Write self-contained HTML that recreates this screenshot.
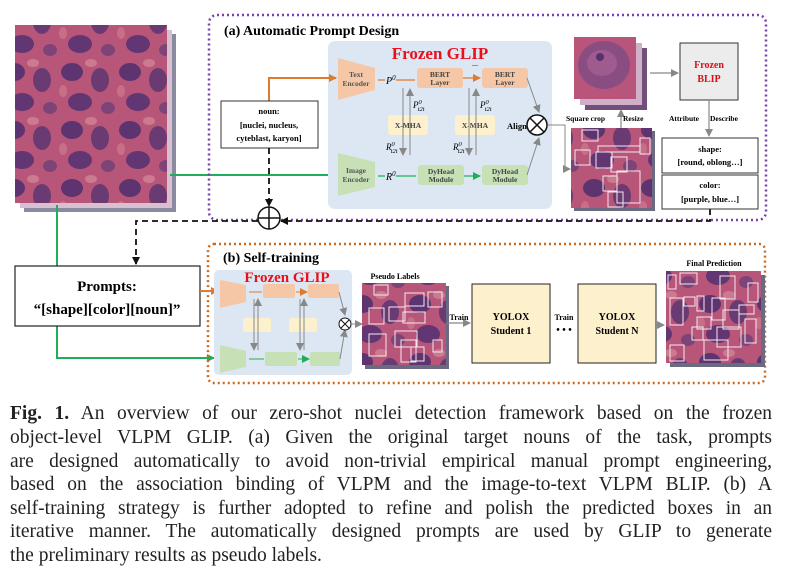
<!DOCTYPE html>
<html><head><meta charset="utf-8"><style>
body{margin:0;background:#fff;width:790px;height:573px;overflow:hidden;position:relative;font-family:"Liberation Serif",serif}
svg{position:absolute;left:0;top:0}
.cap{position:absolute;left:10px;width:762px;font-size:19.5px;line-height:23.7px;text-align:justify;text-align-last:justify;white-space:nowrap;color:#222}
.cap.last{text-align-last:left}
</style></head><body>
<svg width="790" height="395" viewBox="0 0 790 395" font-family="Liberation Serif, serif">
<defs>
<pattern id="tis" width="58" height="58" patternUnits="userSpaceOnUse">
<rect width="58" height="58" fill="#b8567a"/>
<ellipse cx="14" cy="14" rx="11" ry="9" fill="#5e3470"/>
<ellipse cx="42" cy="22" rx="9" ry="12" fill="#6a3a72"/>
<ellipse cx="22" cy="44" rx="12" ry="9" fill="#623672"/>
<ellipse cx="50" cy="50" rx="7" ry="6" fill="#7e4478"/>
<ellipse cx="33" cy="5" rx="6" ry="4" fill="#cc7a90"/>
<ellipse cx="5" cy="33" rx="4" ry="6" fill="#c86f88"/>
</pattern>
<pattern id="big" x="574" y="37" width="62" height="62" patternUnits="userSpaceOnUse">
<rect width="62" height="62" fill="#b9557a"/>
<ellipse cx="30" cy="28" rx="26" ry="24" fill="#8a4d82"/>
<ellipse cx="28" cy="26" rx="15" ry="13" fill="#9e5c8e"/>
<circle cx="26" cy="20" r="4" fill="#5a3070"/>
</pattern>
<marker id="ao" markerWidth="8" markerHeight="8" refX="7" refY="4" orient="auto" markerUnits="userSpaceOnUse"><path d="M0,0 L8,4 L0,8z" fill="#e07a2c"/></marker>
<marker id="ag" markerWidth="8" markerHeight="8" refX="7" refY="4" orient="auto" markerUnits="userSpaceOnUse"><path d="M0,0 L8,4 L0,8z" fill="#1fae5a"/></marker>
<marker id="ay" markerWidth="8" markerHeight="8" refX="7" refY="4" orient="auto" markerUnits="userSpaceOnUse"><path d="M0,0 L8,4 L0,8z" fill="#888"/></marker>
<marker id="ak" markerWidth="8" markerHeight="8" refX="7" refY="4" orient="auto" markerUnits="userSpaceOnUse"><path d="M0,0 L8,4 L0,8z" fill="#111"/></marker>
</defs>

<rect x="24" y="34" width="152" height="178" fill="#8a8aa0"/>
<rect x="20" y="30" width="152" height="178" fill="#d8c0d0"/>
<rect x="15" y="25" width="152" height="178" fill="url(#tis)"/>

<path d="M170,175 H336" stroke="#1fae5a" stroke-width="2" fill="none" marker-end="url(#ag)"/>
<path d="M57,205 V358 H214" stroke="#1fae5a" stroke-width="2" fill="none" marker-end="url(#ag)"/>

<rect x="209" y="15" width="557" height="205" rx="8" fill="none" stroke="#7a3fb0" stroke-width="2.5" stroke-dasharray="2,3"/>
<text x="224" y="35" font-size="14" font-weight="bold">(a) Automatic Prompt Design</text>
<rect x="328" y="41" width="224" height="168" rx="7" fill="#dde7f3"/>
<text x="440" y="59" font-size="17" font-weight="bold" fill="#e8101a" text-anchor="middle">Frozen GLIP</text>
<path d="M338,58 L375,68 L375,90 L338,100z" fill="#f5c7a6"/>
<text x="356" y="77" font-size="7.5" font-weight="bold" fill="#555" text-anchor="middle">Text</text>
<text x="356" y="86" font-size="7.5" font-weight="bold" fill="#555" text-anchor="middle">Encoder</text>
<path d="M338,153 L375,162 L375,187 L338,196z" fill="#c7e0b5"/>
<text x="356" y="173" font-size="7.5" font-weight="bold" fill="#555" text-anchor="middle">Image</text>
<text x="356" y="182" font-size="7.5" font-weight="bold" fill="#555" text-anchor="middle">Encoder</text>
<text x="386" y="84" font-size="10" font-style="italic">P<tspan font-size="7" dy="-4">0</tspan></text>
<text x="386" y="180" font-size="10" font-style="italic">R<tspan font-size="7" dy="-4">0</tspan></text>
<path d="M378,80 H385 M396,80 H415 M463,78 H480" stroke="#e07a2c" stroke-width="1.2" marker-end="url(#ao)"/>
<path d="M378,176 H385 M396,176 H416 M463,176 H480" stroke="#1fae5a" stroke-width="1.2" marker-end="url(#ag)"/>
<rect x="417" y="68" width="46" height="20" rx="3" fill="#f5c7a6"/>
<rect x="482" y="68" width="46" height="20" rx="3" fill="#f5c7a6"/>
<text x="440" y="77" font-size="7.5" font-weight="bold" fill="#444" text-anchor="middle">BERT</text>
<text x="440" y="85" font-size="7.5" font-weight="bold" fill="#444" text-anchor="middle">Layer</text>
<text x="505" y="77" font-size="7.5" font-weight="bold" fill="#444" text-anchor="middle">BERT</text>
<text x="505" y="85" font-size="7.5" font-weight="bold" fill="#444" text-anchor="middle">Layer</text>
<text x="475" y="66" font-size="8" text-anchor="middle">...</text>
<rect x="388" y="115" width="40" height="20" rx="3" fill="#fdf0cc"/>
<rect x="455" y="115" width="40" height="20" rx="3" fill="#fdf0cc"/>
<text x="408" y="128" font-size="7.5" font-weight="bold" fill="#444" text-anchor="middle">X-MHA</text>
<text x="475" y="128" font-size="7.5" font-weight="bold" fill="#444" text-anchor="middle">X-MHA</text>
<rect x="418" y="165" width="46" height="20" rx="3" fill="#c7e0b5"/>
<rect x="482" y="165" width="46" height="20" rx="3" fill="#c7e0b5"/>
<text x="441" y="174" font-size="7.5" font-weight="bold" fill="#444" text-anchor="middle">DyHead</text>
<text x="441" y="182" font-size="7.5" font-weight="bold" fill="#444" text-anchor="middle">Module</text>
<text x="505" y="174" font-size="7.5" font-weight="bold" fill="#444" text-anchor="middle">DyHead</text>
<text x="505" y="182" font-size="7.5" font-weight="bold" fill="#444" text-anchor="middle">Module</text>
<g stroke="#888" stroke-width="1" fill="none">
<path d="M410,155 V89" marker-end="url(#ay)"/><path d="M403,88 V155" marker-end="url(#ay)"/>
<path d="M476,155 V89" marker-end="url(#ay)"/><path d="M469,88 V155" marker-end="url(#ay)"/>
<path d="M527,78 L539,112" marker-end="url(#ay)"/><path d="M527,175 L539,138" marker-end="url(#ay)"/>
<path d="M548,125 H565 V169 H570" marker-end="url(#ay)"/>
</g>
<text x="413" y="108" font-size="9" font-style="italic">P<tspan font-size="6.5" dy="-4">0</tspan><tspan font-size="6.5" dy="7" dx="-4">t2t</tspan></text>
<text x="480" y="108" font-size="9" font-style="italic">P<tspan font-size="6.5" dy="-4">0</tspan><tspan font-size="6.5" dy="7" dx="-4">t2t</tspan></text>
<text x="386" y="150" font-size="9" font-style="italic">R<tspan font-size="6.5" dy="-4">0</tspan><tspan font-size="6.5" dy="7" dx="-4">t2t</tspan></text>
<text x="453" y="150" font-size="9" font-style="italic">R<tspan font-size="6.5" dy="-4">0</tspan><tspan font-size="6.5" dy="7" dx="-4">t2t</tspan></text>
<text x="507" y="129" font-size="8.5" font-weight="bold">Align</text>
<circle cx="537" cy="125" r="10" fill="#fff" stroke="#111" stroke-width="1.5"/>
<path d="M530,118 L544,132 M544,118 L530,132" stroke="#111" stroke-width="1.5"/>

<path d="M269,101 V78 H336" stroke="#e07a2c" stroke-width="2" fill="none" marker-end="url(#ao)"/>
<rect x="221" y="101" width="97" height="47" fill="#fff" stroke="#333"/>
<text x="269" y="114" font-size="8.5" font-weight="bold" text-anchor="middle">noun:</text>
<text x="269" y="128" font-size="8.5" font-weight="bold" text-anchor="middle">[nuclei, nucleus,</text>
<text x="269" y="141" font-size="8.5" font-weight="bold" text-anchor="middle">cyteblast, karyon]</text>

<g stroke="#111" stroke-width="1.8" fill="none" stroke-dasharray="6,4">
<path d="M269,148 V206" marker-end="url(#ak)"/>
<path d="M710,209 V221 H281" marker-end="url(#ak)"/>
<path d="M258,221 H136 V264" marker-end="url(#ak)"/>
</g>
<circle cx="269" cy="218" r="11" fill="#fff" stroke="#111" stroke-width="1.5"/>
<path d="M258,218 H280 M269,207 V229" stroke="#111" stroke-width="1.5"/>

<rect x="585" y="48" width="62" height="62" fill="#70507a"/>
<rect x="580" y="43" width="62" height="62" fill="#d0b0c8"/>
<rect x="574" y="37" width="62" height="62" fill="url(#big)"/>
<path d="M650,73 H678" stroke="#888" stroke-width="1.2" marker-end="url(#ay)"/>
<path d="M621,128 V110" stroke="#888" stroke-width="1.2" marker-end="url(#ay)"/>
<rect x="680" y="43" width="58" height="57" fill="#ececec" stroke="#333"/>
<text x="709" y="68" font-size="10" font-weight="bold" fill="#d8101a" text-anchor="middle">Frozen</text>
<text x="709" y="82" font-size="10" font-weight="bold" fill="#d8101a" text-anchor="middle">BLIP</text>
<path d="M709,100 V136" stroke="#888" stroke-width="1.2" marker-end="url(#ay)"/>
<text x="566" y="121" font-size="7.5" font-weight="bold">Square crop</text>
<text x="623" y="121" font-size="7.5" font-weight="bold">Resize</text>
<text x="669" y="121" font-size="7.5" font-weight="bold">Attribute</text>
<text x="710" y="121" font-size="7.5" font-weight="bold">Describe</text>
<rect x="574" y="131" width="81" height="80" fill="#6a6a80"/>
<rect x="571" y="128" width="81" height="80" fill="url(#tis)"/>
<g fill="none" stroke="#f4e8f0" stroke-width="1">
<rect x="582" y="130" width="16" height="11"/><rect x="575" y="150" width="15" height="15"/><rect x="596" y="152" width="16" height="16"/><rect x="611" y="157" width="16" height="15"/><rect x="640" y="138" width="10" height="16"/><rect x="617" y="171" width="23" height="32"/><rect x="603" y="176" width="14" height="15"/><rect x="608" y="192" width="15" height="15"/><rect x="598" y="146" width="42" height="6"/>
</g>
<rect x="662" y="138" width="96" height="35" fill="#fff" stroke="#333"/>
<rect x="662" y="175" width="96" height="34" fill="#fff" stroke="#333"/>
<text x="710" y="152" font-size="8.5" font-weight="bold" text-anchor="middle">shape:</text>
<text x="710" y="165" font-size="8.5" font-weight="bold" text-anchor="middle">[round, oblong…]</text>
<text x="710" y="188" font-size="8.5" font-weight="bold" text-anchor="middle">color:</text>
<text x="710" y="202" font-size="8.5" font-weight="bold" text-anchor="middle">[purple, blue…]</text>

<rect x="208" y="244" width="557" height="139" rx="6" fill="none" stroke="#c96a20" stroke-width="2.5" stroke-dasharray="2,3"/>
<text x="223" y="262" font-size="14" font-weight="bold">(b) Self-training</text>
<rect x="15" y="266" width="185" height="60" fill="#fff" stroke="#222" stroke-width="1.2"/>
<text x="107" y="291" font-size="15" font-weight="bold" text-anchor="middle">Prompts:</text>
<text x="107" y="314" font-size="15" font-weight="bold" text-anchor="middle">“[shape][color][noun]”</text>
<path d="M200,291 H218" stroke="#e07a2c" stroke-width="2" marker-end="url(#ao)"/>
<rect x="214" y="270" width="138" height="105" rx="5" fill="#dde7f3"/>
<text x="287" y="282" font-size="15" font-weight="bold" fill="#e8101a" text-anchor="middle">Frozen GLIP</text>
<path d="M220,280 L246,285 L246,302 L220,308z" fill="#f5c7a6"/>
<path d="M220,345 L246,351 L246,367 L220,373z" fill="#c7e0b5"/>
<rect x="263" y="284" width="32" height="14" rx="2" fill="#f5c7a6"/>
<rect x="308" y="284" width="31" height="14" rx="2" fill="#f5c7a6"/>
<rect x="243" y="318" width="28" height="14" rx="2" fill="#fdf0cc"/>
<rect x="289" y="318" width="28" height="14" rx="2" fill="#fdf0cc"/>
<rect x="265" y="352" width="32" height="14" rx="2" fill="#c7e0b5"/>
<rect x="310" y="352" width="30" height="14" rx="2" fill="#c7e0b5"/>
<g stroke-width="1">
<path d="M249,292 H262 M296,292 H307" stroke="#e07a2c" marker-end="url(#ao)"/>
<path d="M249,359 H264 M298,359 H309" stroke="#1fae5a" marker-end="url(#ag)"/>
<g stroke="#888" fill="none"><path d="M258,350 V299" marker-end="url(#ay)"/><path d="M254,299 V350" marker-end="url(#ay)"/><path d="M304,350 V299" marker-end="url(#ay)"/><path d="M300,299 V350" marker-end="url(#ay)"/><path d="M339,292 L345,315" marker-end="url(#ay)"/><path d="M340,359 L345,330" marker-end="url(#ay)"/><path d="M352,324 H362" marker-end="url(#ay)"/></g>
</g>
<circle cx="345" cy="324" r="6" fill="#fff" stroke="#111"/>
<path d="M341,320 L349,328 M349,320 L341,328" stroke="#111"/>
<text x="395" y="279" font-size="8" font-weight="bold" text-anchor="middle">Pseudo Labels</text>
<rect x="365" y="286" width="84" height="83" fill="#6a6a80"/>
<rect x="362" y="283" width="84" height="82" fill="url(#tis)"/>
<g fill="none" stroke="#f4e8f0" stroke-width="1">
<rect x="374" y="285" width="14" height="10"/><rect x="405" y="293" width="19" height="13"/><rect x="428" y="292" width="14" height="15"/><rect x="369" y="308" width="15" height="16"/><rect x="389" y="307" width="16" height="14"/><rect x="403" y="312" width="22" height="11"/><rect x="395" y="331" width="22" height="16"/><rect x="369" y="334" width="17" height="22"/><rect x="411" y="347" width="13" height="14"/><rect x="401" y="340" width="15" height="22"/><rect x="433" y="340" width="9" height="12"/></g>
<path d="M447,323 H470" stroke="#888" stroke-width="1.2" marker-end="url(#ay)"/>
<text x="459" y="320" font-size="8" font-weight="bold" text-anchor="middle">Train</text>
<rect x="472" y="284" width="78" height="79" fill="#fdf0cc" stroke="#222"/>
<text x="511" y="320" font-size="10" font-weight="bold" text-anchor="middle">YOLOX</text>
<text x="511" y="334" font-size="10" font-weight="bold" text-anchor="middle">Student 1</text>
<text x="564" y="320" font-size="8" font-weight="bold" text-anchor="middle">Train</text>
<text x="564" y="333" font-size="10" font-weight="bold" text-anchor="middle">• • •</text>
<rect x="578" y="284" width="78" height="79" fill="#fdf0cc" stroke="#222"/>
<text x="617" y="320" font-size="10" font-weight="bold" text-anchor="middle">YOLOX</text>
<text x="617" y="334" font-size="10" font-weight="bold" text-anchor="middle">Student N</text>
<path d="M656,325 H664" stroke="#888" stroke-width="1.2" marker-end="url(#ay)"/>
<text x="714" y="266" font-size="8" font-weight="bold" text-anchor="middle">Final Prediction</text>
<rect x="670" y="275" width="95" height="92" fill="#6a6a80"/>
<rect x="666" y="271" width="95" height="92" fill="url(#tis)"/>
<g fill="none" stroke="#f4e8f0" stroke-width="1">
<rect x="668" y="275" width="8" height="14"/><rect x="680" y="273" width="17" height="11"/><rect x="720" y="276" width="15" height="23"/><rect x="748" y="283" width="10" height="19"/><rect x="684" y="297" width="11" height="9"/><rect x="670" y="298" width="13" height="27"/><rect x="697" y="296" width="7" height="15"/><rect x="712" y="298" width="13" height="22"/><rect x="697" y="317" width="14" height="12"/><rect x="723" y="310" width="16" height="19"/><rect x="739" y="305" width="15" height="9"/><rect x="692" y="327" width="11" height="13"/><rect x="717" y="327" width="24" height="20"/><rect x="745" y="319" width="11" height="24"/><rect x="670" y="345" width="14" height="16"/><rect x="704" y="340" width="24" height="20"/></g>
</svg>
<div class="cap" style="top:402px"><b>Fig. 1.</b> An overview of our zero-shot nuclei detection framework based on the frozen</div>
<div class="cap" style="top:426px">object-level VLPM GLIP. (a) Given the original target nouns of the task, prompts</div>
<div class="cap" style="top:450px">are designed automatically to avoid non-trivial empirical manual prompt engineering,</div>
<div class="cap" style="top:473px">based on the association binding of VLPM and the image-to-text VLPM BLIP. (b) A</div>
<div class="cap" style="top:497px">self-training strategy is further adopted to refine and polish the predicted boxes in an</div>
<div class="cap" style="top:520px">iterative manner. The automatically designed prompts are used by GLIP to generate</div>
<div class="cap last" style="top:544px">the preliminary results as pseudo labels.</div>
</body></html>
